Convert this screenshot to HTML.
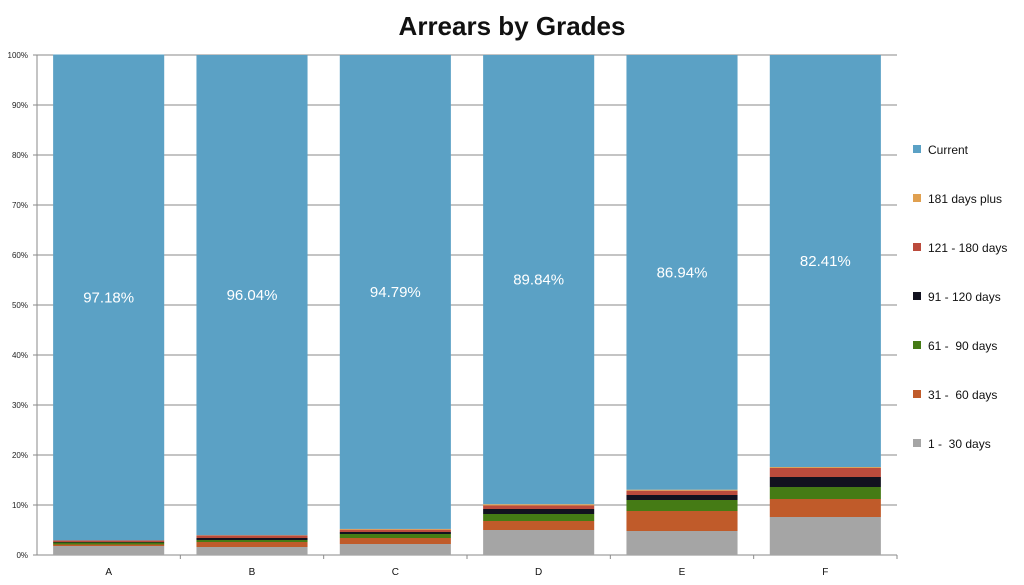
<!DOCTYPE html>
<html><head><meta charset="utf-8"><style>
body{margin:0;background:#fff;width:1024px;height:580px;overflow:hidden;font-family:"Liberation Sans",sans-serif}
</style></head><body>
<svg id="chart" width="1024" height="580">
<text x="512" y="35" text-anchor="middle" font-size="26" font-weight="bold" fill="#111">Arrears by Grades</text>
</svg>
<script>
const categories=["A","B","C","D","E","F"];
const seriesNames=["1 -  30 days","31 -  60 days","61 -  90 days","91 - 120 days","121 - 180 days","181 days plus","Current"];
const d1_30=[1.8,1.6,2.2,5.0,4.8,7.6];
const d31_60=[0.3,1.0,1.2,1.8,4.0,3.6];
const d61_90=[0.4,0.4,0.8,1.4,2.2,2.4];
const d91_120=[0.1,0.4,0.4,1.0,1.0,2.0];
const d121_180=[0.3,0.5,0.46,0.7,0.86,1.8];
const d181=[0.02,0.06,0.15,0.26,0.2,0.19];
const current=[97.18,96.04,94.79,89.84,86.94,82.41];
const yTicks=[0,10,20,30,40,50,60,70,80,90,100];
const colors=["#a5a5a5","#c05b2a","#457b15","#12121f","#bb4b3c","#e0a050","#5ba1c5"];
const svg=document.getElementById('chart');const NS="http://www.w3.org/2000/svg";
const L=37,R=897,T=55,B=555;
const y=v=>B-(v/100)*(B-T);
const cw=(R-L)/categories.length,bw=cw*0.775;
const xc=i=>L+cw*(i+0.5);
function el(t,a,p){const e=document.createElementNS(NS,t);for(const k in a)e.setAttribute(k,a[k]);(p||svg).appendChild(e);return e;}
yTicks.forEach(v=>{
 const g=el('line',{x1:L-4,x2:R,y1:y(v),y2:y(v),stroke:'#8a8a8a','stroke-width':1});
 
 
 const t=el('text',{x:L-9,y:y(v)+3,'text-anchor':'end','font-size':8,fill:'#222'});t.textContent=v+'%';
 
 
});
el('line',{x1:L,x2:L,y1:T,y2:B,stroke:'#8a8a8a'});
el('line',{x1:L,x2:R,y1:B,y2:B,stroke:'#8a8a8a'});
const series=[d1_30,d31_60,d61_90,d91_120,d121_180,d181,current];
categories.forEach((c,i)=>{
 for(let k=0;k<=categories.length;k++){}
 const tk=el('line',{x1:L+cw*(i+1),x2:L+cw*(i+1),y1:B,y2:B+4,stroke:'#8a8a8a'});
 let acc=0;
 series.forEach((s,si)=>{
  const r=el('rect',{x:xc(i)-bw/2,y:y(acc+s[i]),width:bw,height:y(acc)-y(acc+s[i]),fill:colors[si]});
  
  
  acc+=s[i];
 });
 const base=acc-current[i];
 const lb=el('text',{x:xc(i),y:(y(100)+y(base))/2+5,'text-anchor':'middle','font-size':15,fill:'#fff'});
 lb.textContent=current[i].toFixed(2)+'%';
 
 
 const xl=el('text',{x:xc(i),y:B+20,'text-anchor':'middle','font-size':10,fill:'#111'});xl.textContent=c;
 
 
});
const legY=[444,395,346,297,248,199,150];
seriesNames.forEach((n,si)=>{
 const r=el('rect',{x:913,y:legY[si]-5,width:8,height:8,fill:colors[si]});
 
 
 const t=el('text',{x:928,y:legY[si]+4,'font-size':12,fill:'#111'});t.textContent=n;
 
 
 t.setAttribute('xml:space','preserve');t.style.whiteSpace='pre';
});
</script>
</body></html>
